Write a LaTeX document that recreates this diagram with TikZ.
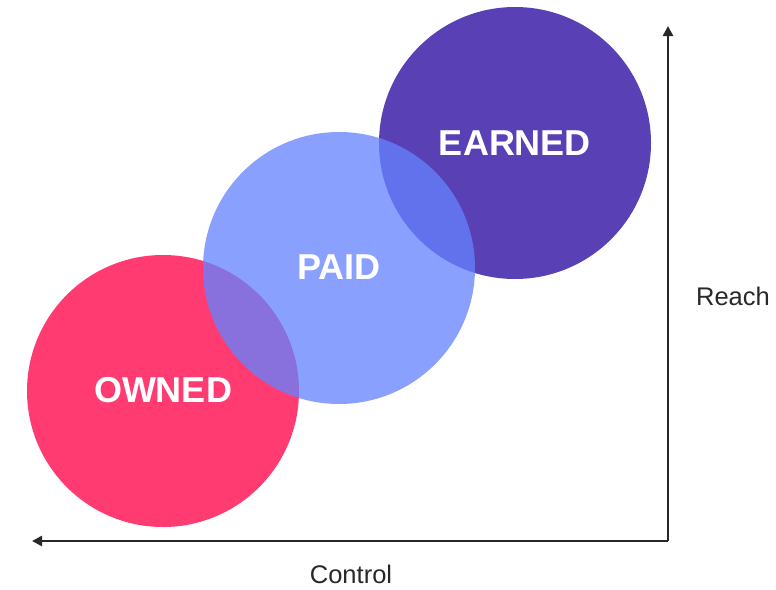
\documentclass[tikz,border=0pt]{standalone}
\usepackage{fontspec}
\setmainfont{Liberation Sans}
\usetikzlibrary{arrows.meta}
\definecolor{ownedc}{RGB}{255,59,114}
\definecolor{paidc}{RGB}{101,130,255}
\definecolor{earnedc}{RGB}{90,64,181}
\definecolor{axisc}{RGB}{40,40,40}
\begin{document}
\begin{tikzpicture}[x=1pt,y=-1pt,
  blob/.style={circle,minimum size=272pt,inner sep=0pt},
  lbl/.style={text=white,font=\fontsize{36}{36}\selectfont\bfseries},
  axislbl/.style={text=axisc,inner sep=0pt,font=\fontsize{25.5}{26}\selectfont},
  axisline/.style={draw=axisc,line width=2.6pt,-{Triangle[length=10pt,width=10pt]}}]
\useasboundingbox (0,0) rectangle (776,589);
\node[blob,fill=earnedc] (earned) at (515,143) {};
\node[blob,fill=ownedc] (owned) at (163,391) {};
\node[blob,fill=paidc,fill opacity=0.76] (paid) at (339,268) {};
\node[lbl] (tE) at (515,143) {EARNED};
\node[lbl] (tP) at (339,267) {PAID};
\node[lbl] (tO) at (163,390) {OWNED};
\coordinate (corner) at (668,541);
\coordinate (top) at (668,26);
\coordinate (left) at (32,541);
\draw[axisline] (corner) -- (top);
\draw[axisline] (corner) -- (left);
\node[axislbl] (reach) at (733,296) {Reach};
\node[axislbl] (control) at (351,574) {Control};
\end{tikzpicture}
\end{document}
